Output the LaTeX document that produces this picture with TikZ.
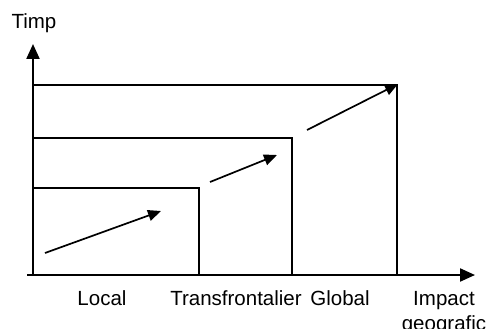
\documentclass[tikz,border=0pt]{standalone}
\usepackage{fontspec}
\setmainfont{Liberation Sans}
\usetikzlibrary{arrows.meta}

\begin{document}
\begin{tikzpicture}[x=1pt, y=-1pt,
axis/.style={line width=2.2pt, -{Triangle[length=15pt, width=13pt]}},
box/.style={line width=1.5pt},
trend/.style={line width=1.7pt, -{Triangle[length=13pt, width=11pt]}},
lbl/.style={font=\fontsize{20.5}{23}\selectfont, inner sep=0pt}]
\useasboundingbox (0,0) rectangle (487,329);
% axes
\coordinate (o) at (33,275);
\coordinate (xstart) at (27,275);
\coordinate (xtip) at (475,275);
\coordinate (ytip) at (33,44);
\draw[axis] (xstart) -- (xtip);
\draw[axis] (o) -- (ytip);
% nested boxes
\coordinate (lt) at (33,188); \coordinate (lc) at (199,188); \coordinate (lb) at (199,275);
\coordinate (mt) at (33,138); \coordinate (mc) at (292,138); \coordinate (mb) at (292,275);
\coordinate (gt) at (33,85);  \coordinate (gc) at (397,85);  \coordinate (gb) at (397,275);
\draw[box] (lt) -- (lc) -- (lb);
\draw[box] (mt) -- (mc) -- (mb);
\draw[box] (gt) -- (gc) -- (gb);
% trend arrows
\coordinate (a1) at (45,253); \coordinate (b1) at (161,211);
\coordinate (a2) at (210,182); \coordinate (b2) at (277,155);
\coordinate (a3) at (307,130); \coordinate (b3) at (398,84);
\draw[trend] (a1) -- (b1);
\draw[trend] (a2) -- (b2);
\draw[trend] (a3) -- (b3);
% labels
\node[lbl, anchor=base] (timp) at (34,29) {Timp};
\node[lbl, anchor=base] (local) at (102,305) {Local};
\node[lbl, anchor=base] (trans) at (236,305) {Transfrontalier};
\node[lbl, anchor=base] (global) at (340,305) {Global};
\node[lbl, anchor=base] (impact) at (444,305) {Impact};
\node[lbl, anchor=base] (geo) at (444,330) {geografic};
\end{tikzpicture}
\end{document}
